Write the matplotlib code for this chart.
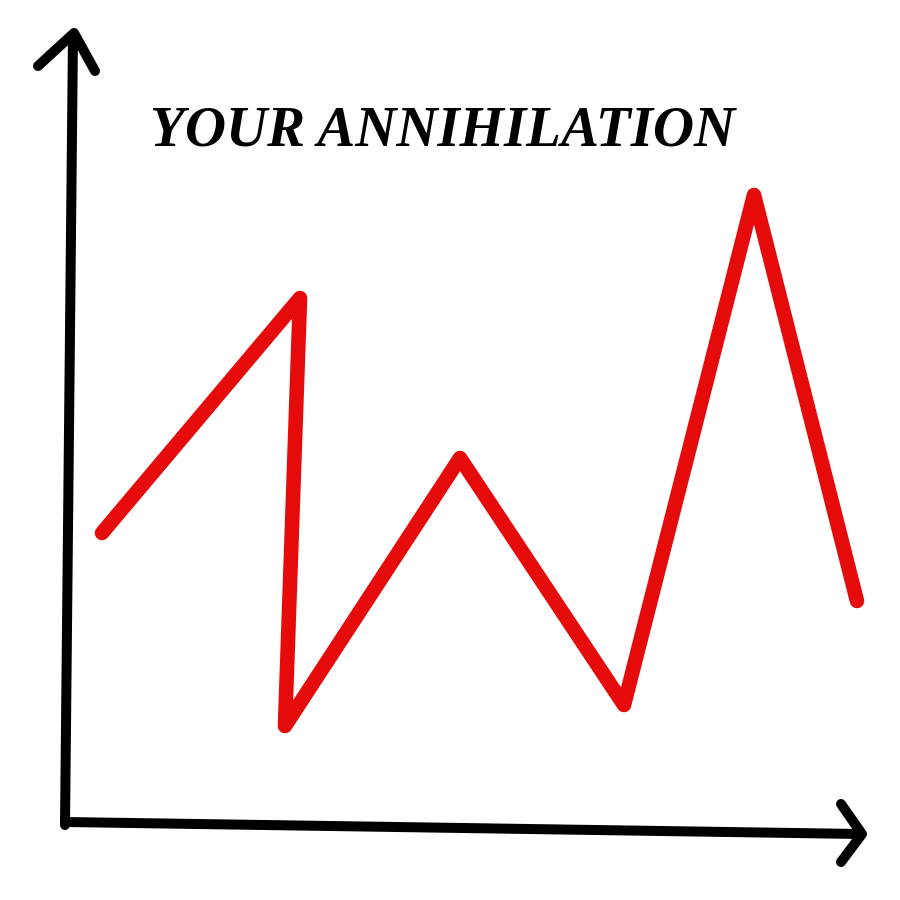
import matplotlib
matplotlib.use("Agg")
import matplotlib.pyplot as plt

# Hand-drawn style chart, coordinates in a 0..900 canvas (y up)
line_x = [102, 300, 285, 460, 624, 754, 857]
line_y = [367, 602, 174, 442, 195, 705, 299]

# Axes drawn as sketchy strokes
y_axis_x = [65, 73]
y_axis_y = [75, 865]
x_axis_x = [65, 860]
x_axis_y = [78, 66]
y_head_x = [38, 74, 95]
y_head_y = [834, 867, 829]
x_head_x = [841, 862, 841]
x_head_y = [96, 66, 38]

title = "YOUR ANNIHILATION"

fig = plt.figure(figsize=(9, 9), dpi=100)
ax = fig.add_axes([0, 0, 1, 1])
ax.set_xlim(0, 900)
ax.set_ylim(0, 900)
ax.axis("off")

black_kw = dict(color="black", linewidth=7.2, solid_capstyle="round", solid_joinstyle="round")
ax.plot(y_axis_x, y_axis_y, **black_kw)
ax.plot(x_axis_x, x_axis_y, **black_kw)
ax.plot(y_head_x, y_head_y, **black_kw)
ax.plot(x_head_x, x_head_y, **black_kw)

ax.plot(line_x, line_y, color="#e50b0b", linewidth=10.5,
        solid_capstyle="round", solid_joinstyle="round")

ax.text(443, 768, title, ha="center", va="center", fontsize=41,
        family="Liberation Serif", fontweight="bold", fontstyle="italic")

fig.savefig("out.png", dpi=100, facecolor="white")
